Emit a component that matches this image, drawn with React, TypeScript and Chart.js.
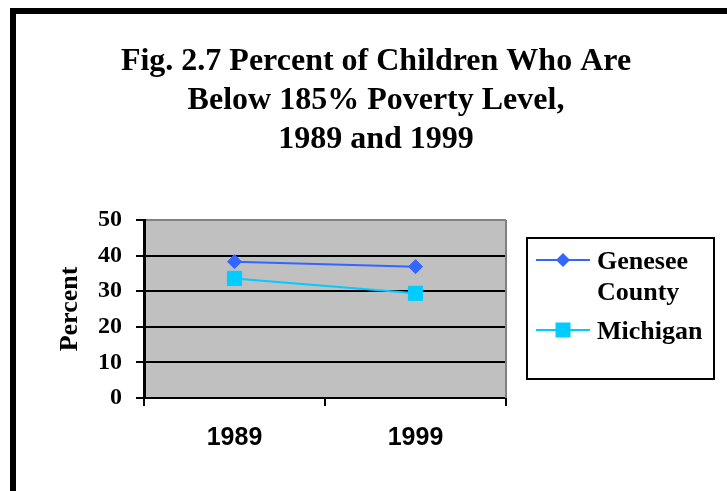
import React, { useEffect, useRef } from 'react';
import { Chart, registerables } from 'chart.js';

Chart.register(...registerables);

const categories = ['1989', '1999'];
const geneseeValues = [38.3, 36.9];
const michiganValues = [33.6, 29.4];
const seriesNames = ['Genesee County', 'Michigan'];
const yTicks = [0, 10, 20, 30, 40, 50];
const titleLines = ['Fig. 2.7 Percent of Children Who Are', 'Below 185% Poverty Level,', '1989 and 1999'];
const yAxisTitle = 'Percent';

const SERIF = '"Liberation Serif", "Times New Roman", serif';
const SANS = '"Liberation Sans", Arial, sans-serif';

function drawMarker(ctx: CanvasRenderingContext2D, style: string, x: number, y: number, r: number) {
  ctx.beginPath();
  if (style === 'rectRot') {
    ctx.moveTo(x, y - r);
    ctx.lineTo(x + r, y);
    ctx.lineTo(x, y + r);
    ctx.lineTo(x - r, y);
    ctx.closePath();
  } else {
    ctx.rect(x - r, y - r, 2 * r, 2 * r);
  }
  ctx.fill();
}

export default function App() {
  const ref = useRef<HTMLCanvasElement>(null);

  useEffect(() => {
    const canvas = ref.current;
    if (!canvas) return;

    const framePlugin = {
      id: 'framePlugin',
      beforeDraw(chart: any) {
        const ctx = chart.ctx as CanvasRenderingContext2D;
        const a = chart.chartArea;
        ctx.save();
        ctx.fillStyle = '#ffffff';
        ctx.fillRect(0, 0, chart.width, chart.height);
        ctx.fillStyle = '#000000';
        ctx.fillRect(10, 8, 6, chart.height - 8);
        ctx.fillRect(10, 8, chart.width - 10, 6);
        ctx.fillStyle = '#c0c0c0';
        ctx.fillRect(a.left, a.top, a.right - a.left, a.bottom - a.top);
        ctx.restore();
      },
      beforeDatasetsDraw(chart: any) {
        const ctx = chart.ctx as CanvasRenderingContext2D;
        const a = chart.chartArea;
        ctx.save();
        ctx.strokeStyle = '#808080';
        ctx.lineWidth = 2;
        ctx.beginPath();
        ctx.moveTo(a.right, a.top);
        ctx.lineTo(a.right, a.bottom);
        ctx.stroke();
        ctx.restore();
      },
    };

    const legendPlugin = {
      id: 'customLegend',
      afterDraw(chart: any) {
        const ctx = chart.ctx as CanvasRenderingContext2D;
        const a = chart.chartArea;
        const bx = a.right + 21;
        const by = a.top + 18;
        const bw = 187;
        const bh = 141;
        ctx.save();
        ctx.fillStyle = '#ffffff';
        ctx.fillRect(bx, by, bw, bh);
        ctx.strokeStyle = '#000000';
        ctx.lineWidth = 2;
        ctx.strokeRect(bx, by, bw, bh);
        ctx.font = `bold 26px ${SERIF}`;
        ctx.textAlign = 'left';
        ctx.textBaseline = 'alphabetic';
        const textX = bx + 70;
        const maxW = bx + bw - textX - 4;
        let y = by + 22;
        chart.data.datasets.forEach((ds: any) => {
          ctx.strokeStyle = ds.borderColor;
          ctx.lineWidth = 2;
          ctx.beginPath();
          ctx.moveTo(bx + 9, y);
          ctx.lineTo(bx + 63, y);
          ctx.stroke();
          ctx.fillStyle = ds.pointBackgroundColor;
          if (ds.pointStyle === 'rectRot') drawMarker(ctx, 'rectRot', bx + 36, y, 7);
          else drawMarker(ctx, 'rect', bx + 36, y, 7.5);
          const words = String(ds.label).split(' ');
          const lines: string[] = [];
          let cur = '';
          words.forEach((w) => {
            const test = cur ? cur + ' ' + w : w;
            if (cur && ctx.measureText(test).width > maxW) {
              lines.push(cur);
              cur = w;
            } else {
              cur = test;
            }
          });
          if (cur) lines.push(cur);
          ctx.fillStyle = '#000000';
          lines.forEach((ln, i) => ctx.fillText(ln, textX, y + 8.5 + i * 31));
          y += lines.length * 31 + 8;
        });
        ctx.restore();
      },
    };

    const chart = new Chart(canvas, {
      type: 'line',
      data: {
        labels: categories,
        datasets: [
          {
            label: seriesNames[0],
            data: geneseeValues,
            borderColor: '#3366FF',
            backgroundColor: '#3366FF',
            borderWidth: 2,
            pointStyle: 'rectRot',
            pointRadius: 7,
            pointBorderWidth: 1,
            pointBackgroundColor: '#3366FF',
            pointBorderColor: '#3366FF',
            xAxisID: 'x',
            yAxisID: 'y',
          },
          {
            label: seriesNames[1],
            data: michiganValues,
            borderColor: '#00CCFF',
            backgroundColor: '#00CCFF',
            borderWidth: 2,
            pointStyle: 'rect',
            pointRadius: 10,
            pointBorderWidth: 1,
            pointBackgroundColor: '#00CCFF',
            pointBorderColor: '#00CCFF',
            xAxisID: 'x',
            yAxisID: 'y',
          },
        ],
      },
      options: {
        responsive: false,
        animation: false,
        devicePixelRatio: 1,
        layout: { padding: { left: 25, right: 0, top: 0, bottom: 0 } },
        plugins: {
          legend: { display: false },
          tooltip: { enabled: false },
          title: {
            display: true,
            text: titleLines,
            color: '#000000',
            font: { family: SERIF, size: 32, weight: 'bold', lineHeight: 39 / 32 },
            padding: { top: 42.5, bottom: 60.5 },
          },
        },
        scales: {
          x: {
            type: 'category',
            offset: true,
            grid: {
              offset: true,
              drawOnChartArea: false,
              drawTicks: true,
              tickLength: 8,
              color: '#000000',
              lineWidth: 2,
            },
            border: { display: true, color: '#000000', width: 2 },
            ticks: {
              color: '#000000',
              font: { family: SANS, size: 25, weight: 'bold' },
              padding: 17,
              maxRotation: 0,
              autoSkip: false,
            },
            afterFit: (s: any) => {
              s.height = 93;
            },
          },
          y: {
            type: 'linear',
            position: 'left',
            min: 0,
            max: 50,
            afterBuildTicks: (s: any) => {
              s.ticks = yTicks.map((v) => ({ value: v }));
            },
            ticks: {
              color: '#000000',
              font: { family: SERIF, size: 24, weight: 'bold' },
              padding: 14,
            },
            grid: {
              color: (ctx: any) => (ctx.tick && ctx.tick.value === 50 ? '#808080' : '#000000'),
              lineWidth: 2,
              tickColor: '#000000',
              tickLength: 8,
              drawTicks: true,
            },
            border: { display: true, color: '#000000', width: 3 },
            title: {
              display: true,
              text: yAxisTitle,
              color: '#000000',
              font: { family: SERIF, size: 26, weight: 'bold' },
              padding: { top: 29.4, bottom: 0 },
            },
            afterFit: (s: any) => {
              s.width = 119;
            },
          },
          yR: {
            type: 'linear',
            position: 'right',
            display: true,
            grid: { display: false, drawTicks: false },
            border: { display: false },
            ticks: { display: false },
            afterFit: (s: any) => {
              s.width = 221;
            },
          },
        },
      } as any,
      plugins: [framePlugin, legendPlugin],
    });

    return () => {
      chart.destroy();
    };
  }, []);

  return (
    <div style={{ position: 'absolute', left: 0, top: 0, width: 727, height: 491, background: '#ffffff' }}>
      <canvas ref={ref} width={727} height={491} style={{ display: 'block' }} />
    </div>
  );
}
